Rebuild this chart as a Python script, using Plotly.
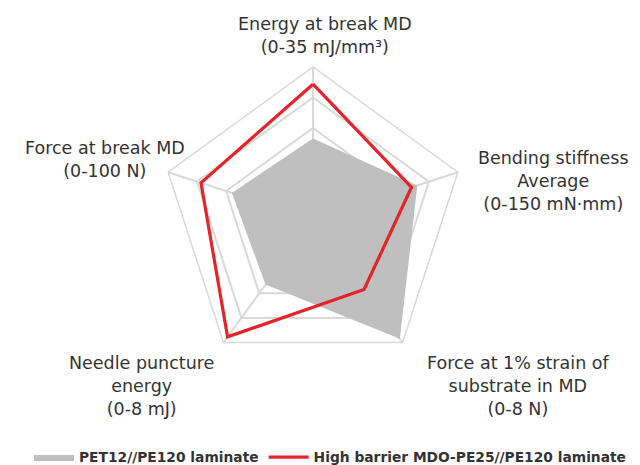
import plotly.graph_objects as go

# axes, clockwise from the top
ejes = ["Energy at break MD", "Bending stiffness Average", "Force at 1% strain of substrate in MD",
        "Needle puncture energy", "Force at break MD"]
etiquetas = [
    "Energy at break MD<br>(0-35 mJ/mm³)",
    "Bending stiffness<br>Average<br>(0-150 mN·mm)",
    "Force at 1% strain of<br>substrate in MD<br>(0-8 N)",
    "Needle puncture<br>energy<br>(0-8 mJ)",
    "Force at break MD<br>(0-100 N)",
]
# valores normalizados (fracción del máximo de cada eje)
pet12 = [0.53, 0.72, 0.97, 0.53, 0.56]
mdo_pe25 = [0.887, 0.68, 0.57, 0.954, 0.773]

gris = "#bfbfbf"
rojo = "#e52329"
rejilla = "#d9d9d9"
fuente = "DejaVu Sans"

fig = go.Figure()
fig.add_trace(go.Scatterpolar(
    r=pet12 + pet12[:1], theta=ejes + ejes[:1],
    fill="toself", fillcolor=gris, line=dict(color=gris, width=0),
    mode="lines", name="PET12//PE120 laminate",
))
fig.add_trace(go.Scatterpolar(
    r=mdo_pe25 + mdo_pe25[:1], theta=ejes + ejes[:1],
    mode="lines", line=dict(color=rojo, width=3.2),
    name="High barrier MDO-PE25//PE120 laminate",
))

# etiquetas de los ejes colocadas a mano
pos = [(317, 28), (545, 176), (510, 385), (133, 385), (97, 154)]
for txt, (x, y) in zip(etiquetas, pos):
    fig.add_annotation(
        x=x / 640, y=1 - y / 465, xref="paper", yref="paper",
        text=txt, showarrow=False, xanchor="center", yanchor="middle",
        font=dict(family=fuente, size=17.5, color="#333333"), align="center",
    )

cx, cy, rad = 305, 215, 155
fig.update_layout(
    width=640, height=465,
    margin=dict(l=0, r=0, t=0, b=0),
    paper_bgcolor="white", plot_bgcolor="white",
    font=dict(family=fuente, color="#333333"),
    polar=dict(
        domain=dict(x=[(cx - rad) / 640, (cx + rad) / 640],
                    y=[1 - (cy + rad) / 465, 1 - (cy - rad) / 465]),
        bgcolor="white",
        gridshape="linear",
        radialaxis=dict(range=[0, 1], tickvals=[0.2, 0.4, 0.6, 0.8, 1.0],
                        showticklabels=False, ticks="", showline=False,
                        gridcolor=rejilla, gridwidth=1.5),
        angularaxis=dict(rotation=90, direction="clockwise", showticklabels=False,
                         ticks="", gridcolor=rejilla, gridwidth=1.5,
                         linecolor=rejilla, linewidth=1.5),
    ),
    showlegend=True,
    legend=dict(orientation="h", x=322 / 640, xanchor="center", y=8 / 465, yanchor="middle",
                font=dict(family=fuente, size=13.8, color="#333333", weight="bold"),
                itemwidth=40, tracegroupgap=0),
)

fig.write_html("out.html")
